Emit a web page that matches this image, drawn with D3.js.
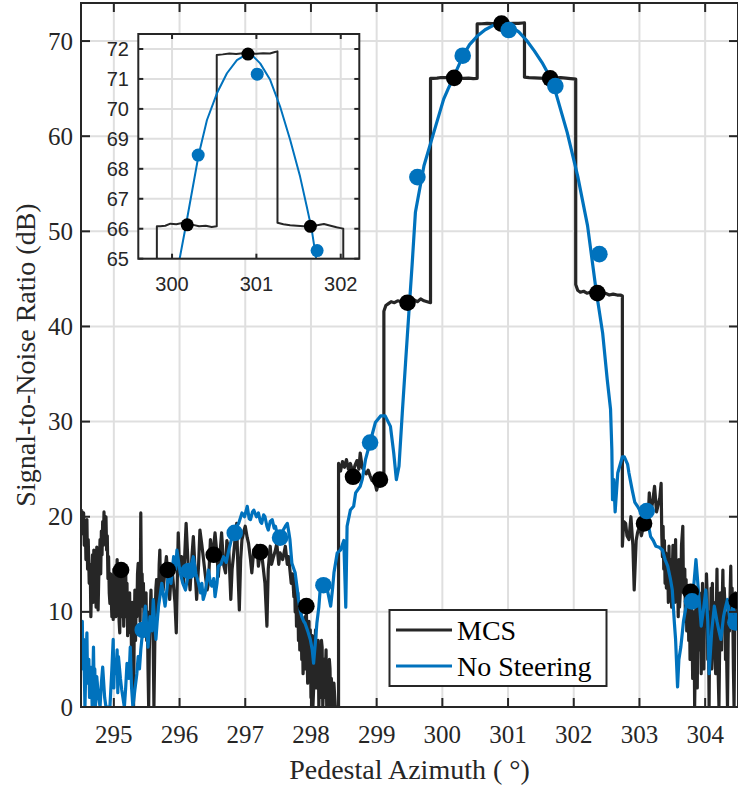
<!DOCTYPE html>
<html>
<head>
<meta charset="utf-8">
<script src="https://cdn.jsdelivr.net/npm/d3@7"></script>
<style>
  html, body { margin: 0; padding: 0; background: #fff; }
  svg { display: block; }
</style>
</head>
<body>
<div id="chart"></div>
<script>
// ---- data ----
const xTicks = [295, 296, 297, 298, 299, 300, 301, 302, 303, 304];
const yTicks = [0, 10, 20, 30, 40, 50, 60, 70];
const insetXTicks = [300, 301, 302];
const insetYTicks = [65, 66, 67, 68, 69, 70, 71, 72];

// MCS trace [azimuth, snr]
const mcsLeft = [
  [294.500,20.8],[294.510,19.0],[294.520,20.5],[294.530,18.2],[294.540,20.4],[294.550,17.0],[294.565,19.5],[294.575,15.5],
  [294.590,19.7],[294.600,14.5],[294.610,17.6],[294.625,13.0],[294.640,15.0],[294.650,9.5],[294.660,12.5],[294.675,16.0],
  [294.685,11.0],[294.695,16.5],[294.705,13.0],[294.715,14.1],[294.730,10.5],[294.740,16.8],[294.750,12.0],[294.760,10.2],
  [294.770,13.5],[294.780,15.5],[294.790,17.6],[294.800,14.0],[294.810,18.5],[294.820,16.0],[294.830,19.5],[294.840,17.0],
  [294.850,20.5],[294.860,17.5],[294.870,19.0],[294.880,20.0],[294.890,16.5],[294.900,18.0],[294.910,13.5],[294.920,15.8],
  [294.930,12.0],[294.940,10.9],[294.950,14.0],[294.960,11.5],[294.970,9.5],[294.980,13.0],[294.990,9.2],[295.000,14.5],
  [295.010,11.0],[295.020,13.5],[295.030,9.5],[295.040,12.3],[295.050,15.5],[295.060,11.0],[295.070,14.0],[295.080,9.0],
  [295.090,7.8],[295.100,12.5],[295.110,9.5],[295.120,14.0],[295.130,10.0],[295.140,14.8],[295.150,8.5],[295.160,12.5],
  [295.170,10.5],[295.180,14.5],[295.190,9.5],[295.200,13.0],[295.210,7.5],[295.220,11.0],[295.230,9.0],[295.240,12.0],
  [295.250,7.8],[295.260,10.5],[295.270,5.0],[295.280,11.0],[295.290,3.0],[295.300,0],[295.310,8.0],[295.320,12.3],
  [295.330,7.0],[295.340,11.5],[295.350,9.5],[295.360,14.0],[295.370,15.1],[295.380,11.0],[295.390,13.5],[295.400,9.0],
  [295.410,20.4],[295.420,12.0],[295.430,14.0],[295.440,10.6],[295.450,13.0],[295.460,9.0],[295.470,11.5],[295.480,8.8],
  [295.490,12.0],[295.500,7.0],[295.510,10.0],[295.520,4.0],[295.530,0],[295.540,6.0],[295.550,9.0],[295.565,12.3],
  [295.580,8.0],[295.590,11.0],[295.600,6.0],[295.610,0],[295.620,5.0],[295.630,10.0],[295.640,12.5],[295.650,13.4],
  [295.665,10.0],[295.680,11.5],[295.690,15.0],[295.700,16.5],[295.710,12.5],[295.720,14.0],
  [295.75,12.3],[295.78,14.5],[295.80,15.8],[295.83,13.0],[295.85,11.3],[295.88,15.0],[295.90,13.4],[295.93,11.0],
  [295.95,7.8],[295.98,18.3],[296.00,14.5],[296.03,15.8],[296.06,13.0],[296.10,19.3],[296.13,15.0],[296.16,12.3],
  [296.19,16.0],[296.21,17.9],[296.24,14.0],[296.26,11.3],[296.29,15.0],[296.31,18.6],[296.34,17.0],[296.36,15.8],
  [296.39,14.0],[296.42,12.3],[296.44,13.0],[296.47,17.6],[296.50,15.5],[296.54,18.3],[296.57,16.0],[296.59,13.7],
  [296.62,16.5],[296.64,18.3],[296.67,15.0],[296.70,14.1],[296.72,17.5],[296.75,16.5],[296.78,11.3],[296.80,14.5],
  [296.82,15.8],[296.85,18.0],[296.87,19.3],[296.89,14.0],[296.91,10.2],[296.93,15.5],[296.95,17.6],[296.98,18.5],
  [297.00,19.0],[297.03,17.8],[297.05,17.2],[297.08,15.5],[297.10,14.1],[297.13,16.5],[297.15,15.8],[297.18,17.0],
  [297.20,14.8],[297.23,16.3],[297.26,15.5],[297.30,13.0],[297.33,8.5],[297.35,14.5],[297.38,16.9],[297.40,15.0],
  [297.43,15.8],[297.46,16.5],[297.48,17.2],[297.51,15.0],[297.53,16.2],[297.57,15.5],[297.61,16.9],[297.64,15.0],
  [297.66,15.8],[297.70,13.0],[297.72,14.0],
  [297.74,11.6],[297.75,13.5],[297.76,10.0],[297.77,12.5],[297.78,8.5],[297.79,9.5],[297.80,12.0],[297.81,7.0],
  [297.82,10.5],[297.83,6.0],[297.84,8.1],[297.85,10.0],[297.86,5.0],[297.87,9.0],[297.88,3.5],[297.89,5.3],
  [297.90,8.0],[297.91,9.5],[297.92,4.0],[297.93,10.6],[297.94,6.0],[297.95,2.5],[297.96,7.0],[297.97,9.0],
  [297.98,3.0],[297.99,8.1],[298.00,1.0],[298.01,4.0],[298.02,7.5],[298.03,0],[298.04,1.8],[298.05,5.0],
  [298.06,6.0],[298.07,8.1],[298.08,2.0],[298.09,5.5],[298.10,3.0],[298.11,7.0],[298.12,0],[298.13,4.0],
  [298.14,5.0],[298.15,1.0],[298.16,7.0],[298.17,6.3],[298.18,0],[298.19,2.0],[298.20,5.0],[298.21,1.0],
  [298.22,3.5],[298.23,6.0],[298.24,0],[298.26,3.0],[298.27,0],[298.28,5.0],[298.29,4.0],[298.30,0],
  [298.31,3.0],[298.32,1.8],[298.33,0],[298.35,2.5],[298.37,0],[298.42,0]
];
const mcsBeam = [
  [298.42,25.6],[298.45,24.8],[298.48,25.8],[298.51,25.2],[298.54,26.0],[298.57,25.0],[298.60,25.6],[298.64,24.6],
  [298.67,25.4],[298.70,25.9],[298.73,25.0],[298.75,26.7],[298.78,25.2],[298.81,24.8],[298.84,24.5],[298.87,24.9],
  [298.90,24.3],[298.93,23.8],[298.96,24.0],[299.00,22.8],[299.03,23.6],[299.05,23.9],[299.08,24.0],[299.11,24.0],
  [299.11,41.6],[299.14,42.2],[299.18,42.4],[299.22,42.6],[299.27,42.5],[299.32,42.7],[299.38,42.6],[299.43,42.8],
  [299.47,42.6],[299.52,42.7],[299.57,42.8],[299.62,42.6],[299.67,42.9],[299.72,42.7],[299.77,42.6],[299.82,42.5],
  [299.82,66.08],[299.86,66.08],[299.92,66.1],[299.98,66.17],[300.05,66.15],[300.12,66.19],[300.18,66.15],[300.25,66.13],
  [300.32,66.08],[300.40,66.1],[300.47,66.06],[300.53,66.08],
  [300.53,71.8],[300.60,71.82],[300.68,71.85],[300.76,71.83],[300.84,71.86],[300.92,71.85],[301.00,71.84],[301.08,71.86],
  [301.16,71.85],[301.22,71.9],[301.25,71.92],
  [301.25,66.2],[301.32,66.15],[301.40,66.12],[301.48,66.1],[301.56,66.08],[301.64,66.08],[301.72,66.12],[301.80,66.16],
  [301.88,66.1],[301.95,66.05],[302.00,66.02],[302.03,66.0],
  [302.03,44.4],[302.06,43.8],[302.10,43.6],[302.15,43.7],[302.20,43.5],[302.25,43.6],[302.30,43.4],[302.36,43.5],
  [302.42,43.4],[302.48,43.5],[302.54,43.3],[302.60,43.4],[302.66,43.3],[302.71,43.3],[302.74,43.2]
];
const mcsRight = [
  [302.74,16.9],[302.76,19.5],[302.79,19.3],[302.81,18.0],[302.84,17.6],[302.87,20.0],[302.90,17.0],[302.92,12.3],
  [302.95,17.5],[302.97,18.3],[303.00,19.0],[303.03,18.0],[303.07,19.3],[303.10,21.0],[303.13,19.5],[303.15,22.5],
  [303.17,20.4],[303.20,21.5],[303.23,23.2],[303.26,20.5],[303.28,21.1],[303.31,22.0],[303.33,23.5],[303.34,18.0],
  [303.35,15.8],[303.36,19.0],[303.37,14.5],[303.38,17.5],[303.39,13.0],[303.40,16.2],[303.41,12.5],[303.43,15.0],
  [303.44,11.0],[303.45,16.9],[303.46,12.0],[303.48,15.5],[303.49,10.5],[303.50,14.1],[303.51,17.0],[303.53,16.0],
  [303.54,11.0],[303.55,17.6],[303.56,12.0],[303.58,14.0],[303.59,9.5],[303.60,15.5],[303.61,10.5],[303.63,13.0],
  [303.64,17.0],[303.66,19.0],[303.67,12.0],[303.69,14.5],[303.70,9.0],[303.71,13.4],[303.72,8.0],[303.74,12.5],
  [303.75,7.0],[303.76,11.6],[303.77,5.0],[303.79,12.5],[303.80,8.0],[303.81,3.0],[303.82,6.0],[303.83,10.0],
  [303.84,0],[303.85,5.0],[303.86,11.0],[303.87,8.0],[303.88,2.0],[303.89,10.6],[303.90,6.0],[303.91,12.0],
  [303.92,7.0],[303.93,9.5],[303.94,3.5],[303.95,8.0],[303.96,13.0],[303.97,9.5],[303.98,4.0],[303.99,11.0],
  [304.01,8.8],[304.02,14.0],[304.03,12.0],[304.04,5.0],[304.05,9.0],[304.06,0],[304.07,10.0],[304.08,7.0],
  [304.09,12.5],[304.10,4.0],[304.11,13.0],[304.12,8.0],[304.13,11.0],[304.14,9.0],[304.15,5.0],[304.16,3.5],
  [304.17,10.0],[304.18,14.5],[304.19,8.0],[304.20,3.0],[304.21,0],[304.22,6.0],[304.23,12.0],[304.24,10.0],
  [304.25,6.0],[304.26,11.0],[304.27,14.4],[304.28,9.0],[304.29,12.5],[304.30,11.0],[304.31,5.0],[304.32,9.9],
  [304.33,4.0],[304.34,0],[304.35,7.0],[304.36,11.0],[304.37,8.0],[304.38,12.0],[304.39,14.8],[304.40,9.0],
  [304.41,12.5],[304.42,10.0],[304.43,4.0],[304.44,0],[304.45,8.0],[304.46,12.0],[304.47,9.0],[304.48,11.5],
  [304.49,9.5],[304.50,11.3]
];

// No Steering trace [azimuth, snr]
const nsLeft = [
  [294.50,8.8],[294.51,5.0],[294.52,9.0],[294.53,4.0],[294.54,7.1],[294.56,0],[294.57,3.0],[294.58,6.0],
  [294.59,7.8],[294.60,2.5],[294.62,5.0],[294.63,1.0],[294.64,4.2],[294.66,3.0],[294.67,0],[294.69,6.3],
  [294.70,2.0],[294.71,4.0],[294.72,0],[294.74,3.2],[294.76,1.5],[294.79,0],[294.81,2.5],[294.83,4.2],
  [294.86,1.0],[294.88,0],[294.94,0],[294.97,4.0],[294.99,7.1],[295.00,2.0],[295.01,5.0],[295.03,3.5],
  [295.05,6.0],[295.06,1.5],[295.07,5.3],[295.10,3.0],[295.12,1.8],[295.16,0],[295.18,2.0],[295.20,4.6],
  [295.23,3.0],[295.25,6.3],[295.27,2.0],[295.29,0],[295.32,1.8],[295.35,3.5],[295.37,5.3],[295.39,4.0],
  [295.41,6.0],[295.44,8.1],[295.46,9.5],[295.48,10.6],[295.52,6.3],[295.55,9.5],[295.58,8.0],[295.60,11.3],
  [295.62,9.0],[295.64,7.1],[295.66,9.0],[295.68,10.6],[295.71,12.0],[295.73,13.0],[295.76,11.5],[295.78,10.6],
  [295.81,12.5],[295.83,14.1],[295.87,13.0],[295.91,15.8],[295.94,14.5],[295.96,16.5],[295.99,15.0],[296.01,14.1],
  [296.05,13.0],[296.09,12.3],[296.14,14.3],[296.18,15.0],[296.21,15.8],[296.25,14.0],[296.29,13.0],[296.32,12.0],
  [296.34,13.0],[296.36,11.3],[296.39,12.0],[296.42,13.5],[296.44,14.4],[296.47,13.0],[296.49,12.7],[296.52,13.5],
  [296.54,11.6],[296.57,13.0],[296.59,14.8],[296.63,15.0],[296.67,15.8],[296.71,15.2],[296.75,16.5],[296.80,17.9],
  [296.84,18.3],[296.87,19.0],[296.90,19.3],[296.95,20.4],[296.99,20.0],[297.03,21.1],[297.06,19.8],[297.08,19.7],
  [297.11,20.5],[297.13,20.7],[297.17,20.0],[297.20,20.4],[297.23,19.5],[297.25,19.3],[297.28,20.2],[297.30,20.0],
  [297.33,19.0],[297.35,18.6],[297.38,19.5],[297.41,19.7],[297.44,18.8],[297.46,19.0],[297.49,18.0],[297.53,17.8],
  [297.57,18.5],[297.61,19.0],[297.64,19.3],[297.66,18.5],[297.68,17.6],[297.71,15.1],[297.74,14.5],[297.76,14.1],
  [297.79,12.5],[297.81,11.3],[297.84,10.0],[297.86,9.5],[297.89,9.0],[297.91,8.8],[297.95,8.0],[297.99,7.1],
  [298.02,6.0],[298.04,4.6],[298.07,7.0],[298.09,8.8],[298.12,10.5],[298.14,12.3],[298.19,13.0],[298.22,12.8],
  [298.25,12.3],[298.30,10.6],[298.33,12.5],[298.35,14.1],[298.40,16.2],[298.45,16.5],[298.50,17.5],[298.53,10.5]
];
const nsBeam = [
  [298.55,19.0],[298.60,20.7],[298.65,21.1],[298.68,22.5],[298.75,23.2],[298.78,23.9],[298.83,26.0],[298.90,27.8],
  [298.98,29.9],[299.06,30.6],[299.13,30.6],[299.21,29.5],[299.26,26.7],[299.30,23.9],[299.34,25.3],[299.39,30.9],
  [299.44,36.2],[299.49,41.4],[299.54,46.5],[299.59,52.0],[299.72,56.9],[299.87,60.4],[300.02,63.9],[300.09,65.0],
  [300.157,66.0],[300.315,68.46],[300.414,69.63],[300.532,70.52],[300.651,71.19],[300.769,71.63],[300.887,71.83],
  [300.946,71.8],[301.045,71.52],[301.163,70.97],[301.281,70.08],[301.40,68.97],[301.518,67.74],[301.597,66.74],
  [301.656,65.97],[301.708,65.01],[301.75,64.0],[301.90,60.4],[302.06,55.8],[302.21,50.6],[302.34,43.8],
  [302.44,39.3],[302.51,34.4],[302.56,31.3],[302.58,27.0],[302.59,21.8],[302.61,23.9],[302.63,20.5],[302.67,24.6],
  [302.74,26.3],[302.77,26.3],[302.82,25.5],[302.84,24.6],[302.89,22.8]
];
const nsRight = [
  [302.93,21.5],[302.97,21.1],[303.02,20.5],[303.07,20.0],[303.14,19.0],[303.17,17.9],[303.21,17.5],[303.25,16.9],
  [303.30,16.8],[303.35,16.5],[303.39,15.5],[303.43,14.8],[303.47,13.5],[303.50,12.3],[303.53,9.0],[303.55,7.1],
  [303.58,2.1],[303.60,5.0],[303.63,6.3],[303.67,9.0],[303.71,10.6],[303.75,11.0],[303.80,11.5],[303.83,13.0],
  [303.86,15.5],[303.90,12.0],[303.94,8.5],[303.97,10.0],[304.01,12.3],[304.04,9.0],[304.06,3.5],[304.10,8.0],
  [304.14,10.6],[304.18,9.0],[304.21,8.0],[304.24,7.1],[304.28,9.5],[304.31,10.5],[304.34,11.3],[304.38,9.0],
  [304.42,10.5],[304.46,9.7],[304.50,10.0]
];

// sampled markers
const mcsDotAz  = [295.11, 295.82, 296.52, 297.23, 297.93, 298.64, 299.05, 299.47, 300.18, 300.90, 301.64, 302.36, 303.07, 303.78, 304.48];
const mcsDotSnr = [14.4, 14.4, 16.0, 16.3, 10.6, 24.2, 23.9, 42.5, 66.13, 71.83, 66.08, 43.5, 19.3, 12.1, 11.2];
const nsDotAz   = [295.44, 296.14, 296.84, 297.53, 298.19, 298.90, 299.62, 300.31, 301.01, 301.72, 302.39, 303.11, 303.80, 304.46];
const nsDotSnr  = [8.1, 14.3, 18.3, 17.8, 12.8, 27.8, 55.7, 68.46, 71.16, 65.27, 47.6, 20.6, 11.1, 8.9];

const seriesNames = ['MCS', 'No Steering'];

// ---- drawing ----
const W = 738, H = 789;
const colMCS = '#262626', colNS = '#0072BD', axisCol = '#262626', gridCol = '#dfdfdf';
const serif = '"Liberation Serif", "Times New Roman", Times, serif';
const sans = '"Liberation Sans", Arial, Helvetica, sans-serif';

const mcsData = mcsLeft.concat(mcsBeam, mcsRight);
const nsData = nsLeft.concat(nsBeam, nsRight);
const mcsDots = mcsDotAz.map((a, i) => [a, mcsDotSnr[i]]);
const nsDots = nsDotAz.map((a, i) => [a, nsDotSnr[i]]);

const svg = d3.select('#chart').append('svg')
    .attr('width', W).attr('height', H)
    .attr('viewBox', `0 0 ${W} ${H}`);

function drawAxes(g, opt) {
  const { x, y, xt, yt, font, fontSize, tick, lw, id, lineW, dotR, xLabY, yLabX } = opt;
  const [x0, x1] = x.range(), [y0, y1] = y.range();

  g.append('rect').attr('x', x0).attr('y', y1).attr('width', x1 - x0).attr('height', y0 - y1).attr('fill', '#fff');

  // grid
  g.append('g').selectAll('line').data(xt).join('line')
      .attr('x1', d => x(d)).attr('x2', d => x(d)).attr('y1', y0).attr('y2', y1)
      .attr('stroke', gridCol).attr('stroke-width', 2);
  g.append('g').selectAll('line').data(yt).join('line')
      .attr('x1', x0).attr('x2', x1).attr('y1', d => y(d)).attr('y2', d => y(d))
      .attr('stroke', gridCol).attr('stroke-width', 2);

  // data
  svg.append('clipPath').attr('id', id).append('rect')
      .attr('x', x0).attr('y', y1).attr('width', x1 - x0).attr('height', y0 - y1);
  const plot = g.append('g').attr('clip-path', `url(#${id})`);
  const line = d3.line().x(d => x(d[0])).y(d => y(d[1]));
  plot.append('path').datum(mcsData).attr('d', line)
      .attr('fill', 'none').attr('stroke', colMCS).attr('stroke-width', lineW).attr('stroke-linejoin', 'round');
  plot.append('path').datum(nsData).attr('d', line)
      .attr('fill', 'none').attr('stroke', colNS).attr('stroke-width', lineW).attr('stroke-linejoin', 'round');
  plot.append('g').selectAll('circle').data(mcsDots).join('circle')
      .attr('cx', d => x(d[0])).attr('cy', d => y(d[1])).attr('r', dotR).attr('fill', '#000');
  plot.append('g').selectAll('circle').data(nsDots).join('circle')
      .attr('cx', d => x(d[0])).attr('cy', d => y(d[1])).attr('r', dotR).attr('fill', colNS);

  // box + ticks
  const ax = g.append('g').attr('stroke', axisCol).attr('stroke-width', lw);
  ax.append('rect').attr('x', x0).attr('y', y1).attr('width', x1 - x0).attr('height', y0 - y1).attr('fill', 'none');
  ax.selectAll('.tb').data(xt).join('line').attr('class', 'tb')
      .attr('x1', d => x(d)).attr('x2', d => x(d)).attr('y1', y0).attr('y2', y0 - tick);
  ax.selectAll('.tt').data(xt).join('line').attr('class', 'tt')
      .attr('x1', d => x(d)).attr('x2', d => x(d)).attr('y1', y1).attr('y2', y1 + tick);
  ax.selectAll('.tl').data(yt).join('line').attr('class', 'tl')
      .attr('x1', x0).attr('x2', x0 + tick).attr('y1', d => y(d)).attr('y2', d => y(d));
  ax.selectAll('.tr').data(yt).join('line').attr('class', 'tr')
      .attr('x1', x1).attr('x2', x1 - tick).attr('y1', d => y(d)).attr('y2', d => y(d));

  // tick labels
  g.append('g').selectAll('text').data(xt).join('text')
      .attr('x', d => x(d)).attr('y', xLabY)
      .attr('text-anchor', 'middle').attr('font-family', font).attr('font-size', fontSize).attr('fill', axisCol)
      .text(d => d);
  g.append('g').selectAll('text').data(yt).join('text')
      .attr('x', yLabX).attr('y', d => y(d)).attr('dy', '0.34em')
      .attr('text-anchor', 'end').attr('font-family', font).attr('font-size', fontSize).attr('fill', axisCol)
      .text(d => d);
}

// main axes
const x = d3.scaleLinear().domain([294.5, 304.5]).range([81, 738]);
const y = d3.scaleLinear().domain([0, 74]).range([707, 3]);
const main = svg.append('g');
drawAxes(main, { x, y, xt: xTicks, yt: yTicks, font: serif, fontSize: 25, tick: 9, lw: 2,
  id: 'clipMain', lineW: 3.2, dotR: 8.3, xLabY: 743, yLabX: 73 });

main.append('text')
    .attr('x', 409.5).attr('y', 779)
    .attr('text-anchor', 'middle').attr('font-family', serif).attr('font-size', 28).attr('fill', axisCol)
    .text('Pedestal Azimuth ( °)');
main.append('text')
    .attr('transform', 'translate(35,355) rotate(-90)')
    .attr('text-anchor', 'middle').attr('font-family', serif).attr('font-size', 28).attr('fill', axisCol)
    .text('Signal-to-Noise Ratio (dB)');

// legend
const leg = main.append('g');
leg.append('rect').attr('x', 389.5).attr('y', 610).attr('width', 217).attr('height', 76)
    .attr('fill', '#fff').attr('stroke', axisCol).attr('stroke-width', 2);
const legCols = [colMCS, colNS];
seriesNames.forEach((name, i) => {
  const ly = 630 + i * 36;
  leg.append('line').attr('x1', 396).attr('x2', 452).attr('y1', ly).attr('y2', ly)
      .attr('stroke', legCols[i]).attr('stroke-width', 3);
  leg.append('text').attr('x', 457).attr('y', ly + 10)
      .attr('font-family', serif).attr('font-size', 28).attr('fill', '#000')
      .text(name);
});

// inset
const ix = d3.scaleLinear().domain([299.6, 302.22]).range([138.3, 359.3]);
const iy = d3.scaleLinear().domain([65, 72.5]).range([258.7, 34]);
const inset = svg.append('g');
drawAxes(inset, { x: ix, y: iy, xt: insetXTicks, yt: insetYTicks, font: sans, fontSize: 20, tick: 5, lw: 2,
  id: 'clipInset', lineW: 2, dotR: 6.5, xLabY: 291, yLabX: 129 });
</script>
</body>
</html>
